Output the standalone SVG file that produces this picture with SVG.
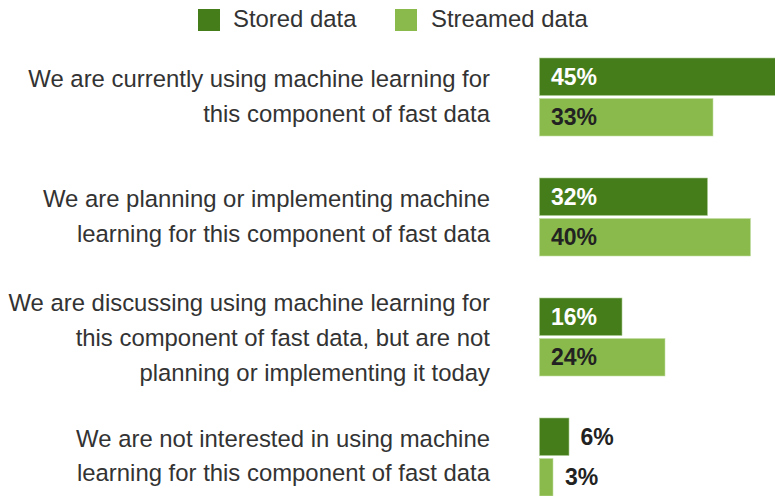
<svg xmlns="http://www.w3.org/2000/svg" width="775" height="496" viewBox="0 0 775 496">
<style>
.lbl{font-family:"Liberation Sans",Arial,sans-serif;font-size:23.9px;fill:#333333;text-anchor:end}
.leg{font-family:"Liberation Sans",Arial,sans-serif;font-size:23.9px;fill:#333333}
.val{font-family:"Liberation Sans",Arial,sans-serif;font-size:23px;font-weight:bold}
.in{fill:#ffffff}
.out{fill:#222222}
.st{fill:#467d1b;stroke:#a9c98f;stroke-width:0.6}
.sm{fill:#8aba4b;stroke:#c3dda3;stroke-width:0.6}
</style>
<rect width="775" height="496" fill="#ffffff"/>
<g id="legend">
<rect x="198" y="9" width="22" height="22" fill="#467d1b"/>
<text class="leg" x="233" y="27">Stored data</text>
<rect x="395" y="9" width="22" height="22" fill="#8aba4b"/>
<text class="leg" x="431" y="27">Streamed data</text>
</g>
<g id="row1">
<text class="lbl" x="490" y="87">We are currently using machine learning for</text>
<text class="lbl" x="490" y="121.5">this component of fast data</text>
<rect class="st" x="539.5" y="58" width="236" height="37.5"/>
<text class="val in" x="551" y="85">45%</text>
<rect class="sm" x="539.5" y="98.5" width="173.5" height="37.5"/>
<text class="val out" x="551" y="125">33%</text>
</g>
<g id="row2">
<text class="lbl" x="490" y="207">We are planning or implementing machine</text>
<text class="lbl" x="490" y="241.5">learning for this component of fast data</text>
<rect class="st" x="539.5" y="178" width="168" height="37.5"/>
<text class="val in" x="551" y="205">32%</text>
<rect class="sm" x="539.5" y="218.5" width="211" height="37.5"/>
<text class="val out" x="551" y="245">40%</text>
</g>
<g id="row3">
<text class="lbl" x="490" y="311">We are discussing using machine learning for</text>
<text class="lbl" x="490" y="346">this component of fast data, but are not</text>
<text class="lbl" x="490" y="381">planning or implementing it today</text>
<rect class="st" x="539.5" y="298" width="82.5" height="37.5"/>
<text class="val in" x="551" y="325">16%</text>
<rect class="sm" x="539.5" y="338.5" width="125.5" height="37.5"/>
<text class="val out" x="551" y="365">24%</text>
</g>
<g id="row4">
<text class="lbl" x="490" y="447">We are not interested in using machine</text>
<text class="lbl" x="490" y="481">learning for this component of fast data</text>
<rect class="st" x="539.5" y="418" width="29.5" height="37.5"/>
<text class="val out" x="580.5" y="445">6%</text>
<rect class="sm" x="539.5" y="458.5" width="13.5" height="37.5"/>
<text class="val out" x="565" y="485">3%</text>
</g>
</svg>
